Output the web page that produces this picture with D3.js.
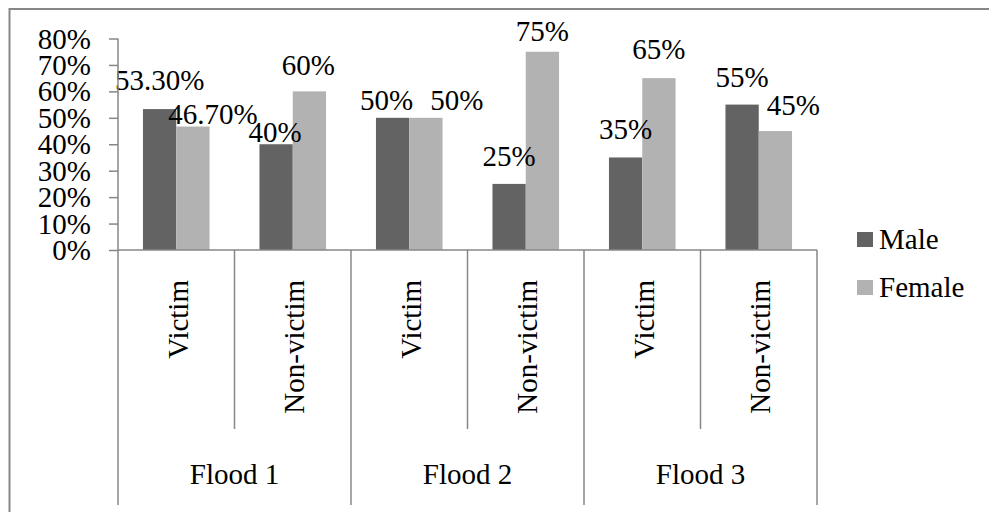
<!DOCTYPE html>
<html>
<head>
<meta charset="utf-8">
<script src="https://cdn.jsdelivr.net/npm/d3@7"></script>
<style>
  html, body { margin: 0; padding: 0; background: #fff; }
  svg { display: block; }
</style>
</head>
<body>
<svg id="chart" width="989" height="512"></svg>
<script>
// Share of respondents by sex, per flood and victim status
const floods = ["Flood 1", "Flood 2", "Flood 3"];
const statuses = ["Victim", "Non-victim"];
const series = ["Male", "Female"];
const maleValues = [0.533, 0.40, 0.50, 0.25, 0.35, 0.55];
const femaleValues = [0.467, 0.60, 0.50, 0.75, 0.65, 0.45];
const maleLabels = ["53.30%", "40%", "50%", "25%", "35%", "55%"];
const femaleLabels = ["46.70%", "60%", "50%", "75%", "65%", "45%"];
const yTicks = [0, 0.1, 0.2, 0.3, 0.4, 0.5, 0.6, 0.7, 0.8];

// Hand-placed label nudges (dx, dy from the top centre of each bar)
const maleNudge = [[0, -19], [-1, -2], [-6, -8], [0, -18], [0, -18], [0, -18]];
const femaleNudge = [[20, -3], [-1, -16], [31, -8], [0, -11], [0, -19], [18, -16]];

const colors = { Male: "#636363", Female: "#b2b2b2" };
const axisColor = "#878787";
const FONT = "'Liberation Serif', 'Times New Roman', serif";
const FONT_SIZE = 29;

const svg = d3.select("#chart");

// Apply the serif face to a text selection
const serif = sel => sel.attr("font-family", FONT).attr("font-size", FONT_SIZE).attr("fill", "#000")
  .style("font-family", FONT).style("font-size", FONT_SIZE + "px");

// Categories: one per flood × status
const cats = [];
floods.forEach(f => statuses.forEach(s => cats.push({ flood: f, status: s, key: f + "|" + s })));
const rows = cats.map((c, i) => ({
  ...c,
  Male: maleValues[i], Female: femaleValues[i],
  labels: { Male: maleLabels[i], Female: femaleLabels[i] },
  nudge: { Male: maleNudge[i], Female: femaleNudge[i] }
}));

const plot = { left: 118, right: 817, top: 38.5, bottom: 250 };

const x0 = d3.scaleBand().domain(cats.map(c => c.key)).range([plot.left, plot.right]).paddingInner(0).paddingOuter(0);
const x1 = d3.scaleBand().domain(series).range([0, x0.bandwidth()]).paddingInner(0).paddingOuter(0.75);
const y = d3.scaleLinear().domain([0, 0.8]).range([plot.bottom, plot.top]);

// Chart border
svg.append("rect")
  .attr("x", 9.5).attr("y", 9).attr("width", 1100).attr("height", 700)
  .attr("fill", "none").attr("stroke", axisColor).attr("stroke-width", 2);

// Bars
const groups = svg.append("g").selectAll("g").data(rows).join("g")
  .attr("transform", d => `translate(${x0(d.key)},0)`);

groups.selectAll("rect").data(d => series.map(s => ({ s, v: d[s] }))).join("rect")
  .attr("x", d => x1(d.s))
  .attr("y", d => y(d.v))
  .attr("width", x1.bandwidth())
  .attr("height", d => y(0) - y(d.v))
  .attr("fill", d => colors[d.s]);

// Data labels
groups.selectAll("text.val").data(d => series.map(s => ({ s, v: d[s], label: d.labels[s], n: d.nudge[s] }))).join("text")
  .attr("class", "val")
  .attr("x", d => x1(d.s) + x1.bandwidth() / 2 + d.n[0])
  .attr("y", d => y(d.v) + d.n[1])
  .attr("text-anchor", "middle")
  .call(serif)
  .text(d => d.label);

// Y axis
const yAxis = d3.axisLeft(y).tickValues(yTicks).tickFormat(d3.format(".0%")).tickSize(9).tickPadding(0);
const gy = svg.append("g").attr("transform", `translate(${plot.left},0)`).call(yAxis)
  .attr("font-family", FONT).attr("font-size", FONT_SIZE);
gy.select(".domain").attr("stroke", axisColor).attr("stroke-width", 1.5).attr("d", `M0,${plot.top}V${plot.bottom}`);
gy.selectAll(".tick line").attr("stroke", axisColor).attr("stroke-width", 1.5);
gy.selectAll(".tick text")
  .attr("x", -27).attr("dy", null).attr("y", 9.5)
  .call(serif);

// X axis line
const gx = svg.append("g");
gx.append("line")
  .attr("x1", plot.left).attr("x2", plot.right)
  .attr("y1", y(0)).attr("y2", y(0))
  .attr("stroke", axisColor).attr("stroke-width", 1.5);

// Category dividers: short between statuses, long between floods
const bounds = d3.range(cats.length + 1);
gx.selectAll("line.div").data(bounds).join("line")
  .attr("class", "div")
  .attr("x1", i => plot.left + i * x0.step()).attr("x2", i => plot.left + i * x0.step())
  .attr("y1", y(0))
  .attr("y2", i => (i % statuses.length === 0 ? 505 : 429))
  .attr("stroke", axisColor).attr("stroke-width", 1.5);

// Status labels (rotated)
gx.selectAll("text.status").data(cats).join("text")
  .attr("class", "status")
  .attr("text-anchor", "end")
  .attr("transform", d => `translate(${x0(d.key) + x0.bandwidth() / 2 + 11.5},280) rotate(-90)`)
  .call(serif)
  .text(d => d.status);

// Flood labels
gx.selectAll("text.flood").data(floods).join("text")
  .attr("class", "flood")
  .attr("text-anchor", "middle")
  .attr("x", (f, i) => plot.left + (i * statuses.length + statuses.length / 2) * x0.step())
  .attr("y", 484)
  .call(serif)
  .text(f => f);

// Legend
const legend = svg.append("g").attr("transform", "translate(857,232)");
const li = legend.selectAll("g").data(series).join("g")
  .attr("transform", (d, i) => `translate(0,${i * 48})`);
li.append("rect").attr("width", 16).attr("height", 15).attr("fill", d => colors[d]);
li.append("text").attr("x", 22).attr("y", 17).call(serif).text(d => d);
</script>
</body>
</html>
